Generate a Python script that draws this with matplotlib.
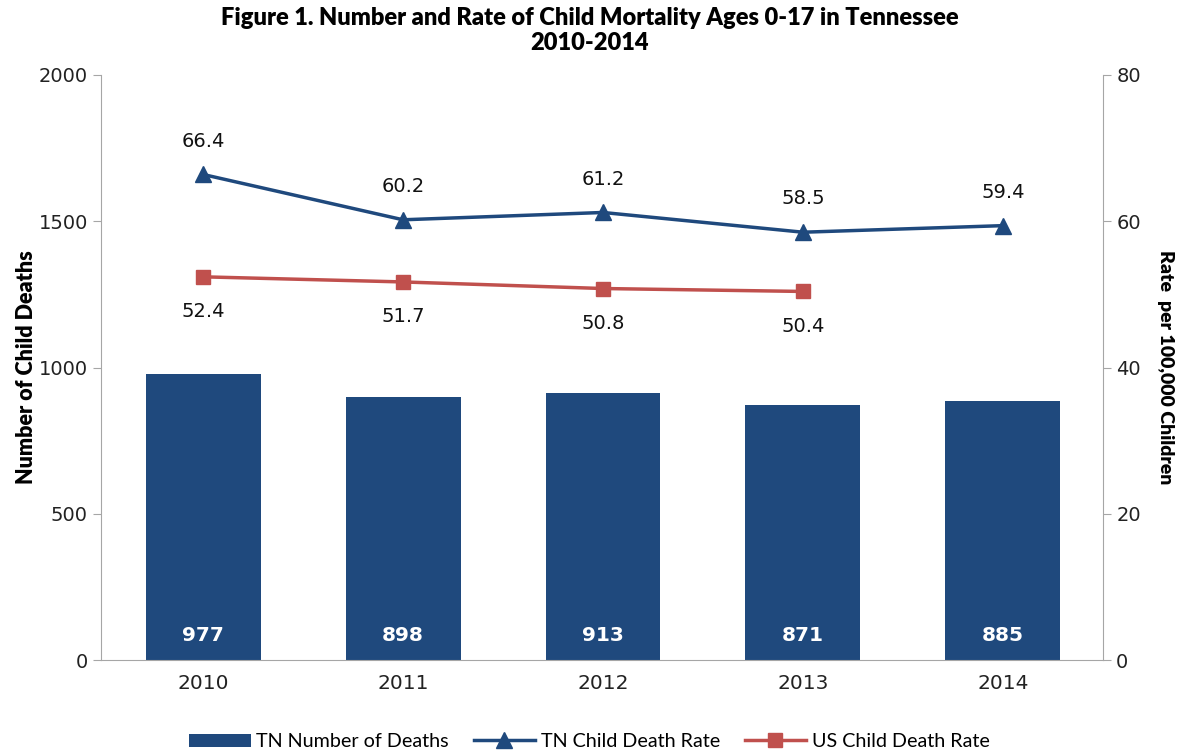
import numpy as np
from matplotlib import pyplot as plt

# data
years = ['2010', '2011', '2012', '2013', '2014']
tn_deaths = [977, 898, 913, 871, 885]
tn_rate = [66.4, 60.2, 61.2, 58.5, 59.4]
us_rate = [52.4, 51.7, 50.8, 50.4]

narrow = ['Liberation Sans Narrow', 'Lato', 'DejaVu Sans']
bar_c = '#1F497D'
tn_c = '#1F497D'
us_c = '#C0504D'
axis_c = '#A6A6A6'

fig = plt.figure(figsize=(11.79, 7.53), dpi=100)
ax = fig.add_axes([0.0857, 0.1235, 0.8498, 0.7769])
x = np.arange(len(years))

bars = ax.bar(x, tn_deaths, width=0.575, color=bar_c, label='TN Number of Deaths', zorder=2)
for xi, v in zip(x, tn_deaths):
    ax.text(xi, 85, str(v), ha='center', va='center', color='white',
            fontsize=14.5, fontweight='bold')

ax.set_xlim(-0.51, 4.5)
ax.set_ylim(0, 2000)
ax.set_yticks([0, 500, 1000, 1500, 2000])
ax.set_xticks(x)
ax.set_xticklabels(years)
ax.tick_params(axis='y', labelsize=14, colors=axis_c, labelcolor='#222222', length=6)
ax.tick_params(axis='x', labelsize=14.5, length=0, pad=10, labelcolor='#222222')
ax.set_ylabel('Number of Child Deaths', family=narrow, fontsize=15.5, fontweight='heavy', labelpad=1)
for s in ['top', 'right']:
    ax.spines[s].set_visible(False)
ax.spines['left'].set_color(axis_c)
ax.spines['bottom'].set_color(axis_c)

ax2 = ax.twinx()
ax2.set_ylim(0, 80)
ax2.set_yticks([0, 20, 40, 60, 80])
ln1, = ax2.plot(x, tn_rate, color=tn_c, linewidth=2.5, marker='^', markersize=11,
                label='TN Child Death Rate', zorder=3)
ln2, = ax2.plot(x[:len(us_rate)], us_rate, color=us_c, linewidth=2.5, marker='s',
                markersize=10, label='US Child Death Rate', zorder=3)
for xi, v in zip(x, tn_rate):
    ax2.annotate(f'{v:.1f}', (xi, v), xytext=(0, 24), textcoords='offset points',
                 ha='center', va='center', fontsize=14, color='#111111')
for xi, v in zip(x, us_rate):
    ax2.annotate(f'{v:.1f}', (xi, v), xytext=(0, -25), textcoords='offset points',
                 ha='center', va='center', fontsize=14, color='#111111')
ax2.tick_params(axis='y', labelsize=14, colors=axis_c, labelcolor='#222222', length=6)
ax2.set_ylabel('Rate  per 100,000 Children', family=narrow, fontsize=14,
               fontweight='heavy', rotation=270, labelpad=24)
for s in ['top', 'left', 'bottom']:
    ax2.spines[s].set_visible(False)
ax2.spines['right'].set_color(axis_c)

fig.suptitle('Figure 1. Number and Rate of Child Mortality Ages 0-17 in Tennessee\n2010-2014',
             family=narrow, fontsize=17, fontweight='heavy', y=0.991, linespacing=1.2)

fig.legend([bars, ln1, ln2], ['TN Number of Deaths', 'TN Child Death Rate', 'US Child Death Rate'],
           loc='lower center', bbox_to_anchor=(0.5, -0.02), ncol=3, frameon=False,
           prop={'family': narrow, 'size': 14.2}, handlelength=3.1, columnspacing=1.25,
           handletextpad=0.3)

fig.savefig('out.png', dpi=100)
